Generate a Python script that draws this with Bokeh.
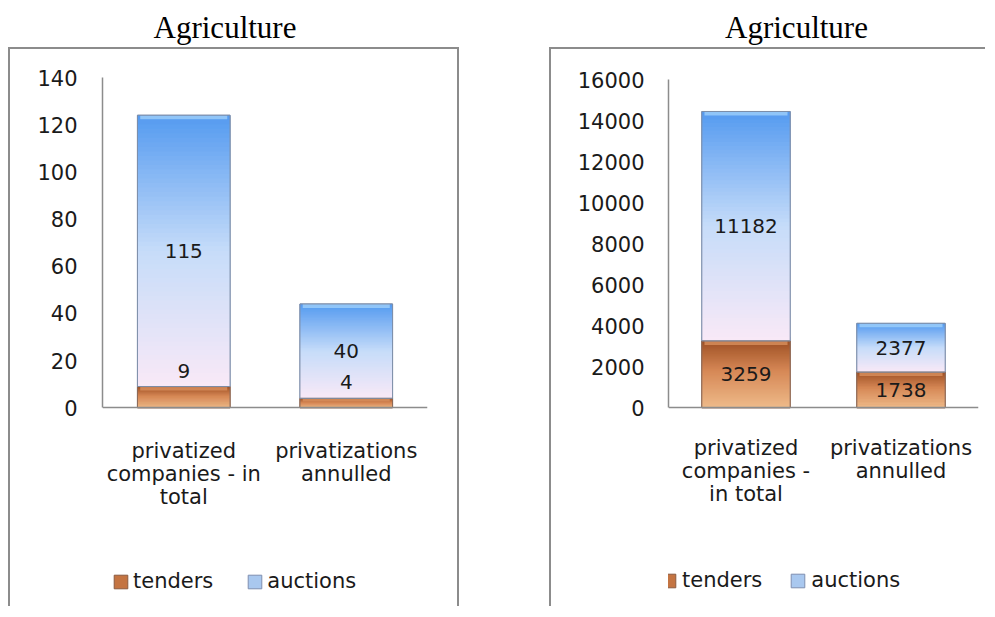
from bokeh.plotting import figure
from bokeh.models import (ColumnDataSource, Range1d, FactorRange, FixedTicker,
                          Legend, LegendItem, Div, Spacer)
from bokeh.layouts import row, column
from bokeh.embed import file_html
from bokeh.resources import INLINE
from bokeh.core.properties import value

# ---------------- data ----------------
chart_title = "Agriculture"
series_names = ["tenders", "auctions"]

left_categories = ["privatized\ncompanies - in\ntotal", "privatizations\nannulled"]
left_tenders = [9, 4]
left_auctions = [115, 40]
left_ticks = [0, 20, 40, 60, 80, 100, 120, 140]

right_categories = ["privatized\ncompanies -\nin total", "privatizations\nannulled"]
right_tenders = [3259, 1738]
right_auctions = [11182, 2377]
right_ticks = [0, 2000, 4000, 6000, 8000, 10000, 12000, 14000, 16000]

# ---------------- styles ----------------
FONT = "DejaVu Sans"
TEXT_COLOR = "#1a1a1a"
AXIS_COLOR = "#8c8c8c"
TENDER_STOPS = [(0.0, (238, 186, 138)), (0.55, (214, 136, 86)), (1.0, (158, 80, 36))]
AUCTION_STOPS = [(0.0, (249, 233, 247)), (0.5, (198, 220, 249)), (1.0, (84, 154, 240))]
TENDER_BASE = "#c47442"
AUCTION_BASE = "#a9c8ef"
TENDER_BEVEL = "#d9905e"
AUCTION_BEVEL = "#9fd0fa"
N_SLICES = 60
BAR_WIDTH = 0.57
BEVEL_PX = 4


def lerp_color(stops, f):
    for (f0, c0), (f1, c1) in zip(stops[:-1], stops[1:]):
        if f <= f1:
            t = (f - f0) / (f1 - f0) if f1 > f0 else 0
            return "#%02x%02x%02x" % tuple(int(round(a + (b - a) * t)) for a, b in zip(c0, c1))
    return "#%02x%02x%02x" % stops[-1][1]


def gradient_source(cats, lows, highs, stops):
    xs, bots, tops, cols = [], [], [], []
    for cat, lo, hi in zip(cats, lows, highs):
        step = (hi - lo) / N_SLICES
        for i in range(N_SLICES):
            b = lo + step * i
            t = min(hi, lo + step * (i + 2))
            xs.append(cat)
            bots.append(b)
            tops.append(t)
            cols.append(lerp_color(stops, (i + 0.5) / N_SLICES))
    return ColumnDataSource(dict(x=xs, bottom=bots, top=tops, color=cols))


def make_panel(cats, tenders, auctions, ticks, width, height, borders,
               frame_left, frame_right, frame_top, frame_bottom, value_px,
               y_standoff, x_standoff, legend_loc, legend_standoff, legend_spacing,
               lift_small_tender_labels, title_pad):
    # the frame reaches down to the legend; value 0 sits value_px below the frame top
    frame_h = height - 2 - frame_top - frame_bottom
    ymax = ticks[-1]
    y_start = -ymax * (frame_h - value_px) / value_px
    p = figure(x_range=FactorRange(factors=cats), y_range=Range1d(y_start, ymax),
               width=width, height=height, output_backend="svg", toolbar_location=None,
               min_border_left=frame_left, min_border_right=frame_right,
               min_border_top=frame_top, min_border_bottom=frame_bottom)
    p.outline_line_color = None
    p.xgrid.visible = False
    p.ygrid.visible = False
    p.styles = borders

    totals = [t + a for t, a in zip(tenders, auctions)]
    zeros = [0 for _ in tenders]

    # base segments (solid colours; these also give the legend swatches)
    base_t = p.vbar(x=cats, bottom=zeros, top=tenders, width=BAR_WIDTH,
                    fill_color=TENDER_BASE, line_color="#8a5a40")
    base_a = p.vbar(x=cats, bottom=tenders, top=totals, width=BAR_WIDTH,
                    fill_color=AUCTION_BASE, line_color="#7f8fb0")

    # gradient overlay
    src_t = gradient_source(cats, zeros, tenders, TENDER_STOPS)
    src_a = gradient_source(cats, tenders, totals, AUCTION_STOPS)
    p.vbar(x="x", bottom="bottom", top="top", width=BAR_WIDTH, source=src_t,
           fill_color="color", line_color=None)
    p.vbar(x="x", bottom="bottom", top="top", width=BAR_WIDTH, source=src_a,
           fill_color="color", line_color=None)
    # light bevel along the top edge of each segment
    bevel = BEVEL_PX * ymax / value_px
    p.vbar(x=cats, bottom=[t - min(bevel, t / 3) for t in tenders], top=tenders,
           width=BAR_WIDTH * 0.94, fill_color=TENDER_BEVEL, fill_alpha=0.8, line_color=None)
    p.vbar(x=cats, bottom=[s - bevel for s in totals], top=totals,
           width=BAR_WIDTH * 0.94, fill_color=AUCTION_BEVEL, fill_alpha=0.8, line_color=None)
    # outlines of segments
    p.vbar(x=cats, bottom=zeros, top=tenders, width=BAR_WIDTH, fill_alpha=0,
           line_color="#8a6a5a", line_width=1)
    p.vbar(x=cats, bottom=tenders, top=totals, width=BAR_WIDTH, fill_alpha=0,
           line_color="#7d8ea8", line_width=1)

    # value labels
    mid_a = [t + a / 2 for t, a in zip(tenders, auctions)]
    p.text(x=cats, y=mid_a, text=[str(a) for a in auctions],
           text_align="center", text_baseline="middle",
           text_font=value(FONT), text_font_size=value("20px"), text_color=TEXT_COLOR)
    if lift_small_tender_labels:
        p.text(x=cats, y=tenders, text=[str(t) for t in tenders],
               text_align="center", text_baseline="bottom", y_offset=-9,
               text_font=value(FONT), text_font_size=value("20px"), text_color=TEXT_COLOR)
    else:
        p.text(x=cats, y=[t / 2 for t in tenders], text=[str(t) for t in tenders],
               text_align="center", text_baseline="middle",
               text_font=value(FONT), text_font_size=value("20px"), text_color=TEXT_COLOR)

    # axes
    for ax in (p.xaxis, p.yaxis):
        ax.axis_line_color = AXIS_COLOR
        ax.axis_line_width = 1.5
        ax.major_tick_line_color = None
        ax.minor_tick_line_color = None
        ax.major_label_text_font = FONT
        ax.major_label_text_font_size = "21px"
        ax.major_label_text_color = TEXT_COLOR
    p.yaxis.ticker = FixedTicker(ticks=ticks)
    p.yaxis.bounds = (ticks[0], ticks[-1])
    p.yaxis.major_label_standoff = y_standoff
    p.xaxis.fixed_location = 0
    p.xaxis.major_label_standoff = x_standoff
    p.xaxis.major_label_text_line_height = 0.96

    legend = Legend(items=[LegendItem(label=series_names[0], renderers=[base_t]),
                           LegendItem(label=series_names[1], renderers=[base_a])],
                    orientation="horizontal", location=legend_loc,
                    glyph_width=17, glyph_height=17, label_standoff=legend_standoff,
                    spacing=legend_spacing,
                    padding=0, margin=0, border_line_color=None,
                    background_fill_alpha=0,
                    label_text_font=FONT, label_text_font_size="21px",
                    label_text_color=TEXT_COLOR)
    p.add_layout(legend)

    title = Div(text=('<div style="width:%dpx; box-sizing:border-box; text-align:center; '
                      'font-family:\'Liberation Serif\'; font-size:31px; line-height:37px; '
                      'position:relative; top:4px; color:#000000; %s">%s</div>')
                % (width, title_pad, chart_title),
                width=width, height=37)
    return column(title, p, spacing=0)


left = make_panel(left_categories, left_tenders, left_auctions, left_ticks,
                  width=451, height=559,
                  borders={"border-top": "2px solid #8c8c8c",
                           "border-left": "2px solid #8c8c8c",
                           "border-right": "2px solid #8c8c8c"},
                  frame_left=92, frame_right=34, frame_top=28, frame_bottom=9, value_px=329,
                  y_standoff=19, x_standoff=25, legend_loc=(10, 6),
                  legend_standoff=4, legend_spacing=33,
                  lift_small_tender_labels=True, title_pad="padding-right:27px;")

right = make_panel(right_categories, right_tenders, right_auctions, right_ticks,
                   width=436, height=559,
                   borders={"border-top": "2px solid #8c8c8c",
                            "border-left": "2px solid #8c8c8c"},
                   frame_left=117, frame_right=9, frame_top=30, frame_bottom=9, value_px=327,
                   y_standoff=18, x_standoff=22, legend_loc=(-8, 7),
                   legend_standoff=5, legend_spacing=27,
                   lift_small_tender_labels=False, title_pad="padding-left:49px;")

layout = row(Spacer(width=8), left, Spacer(width=80), right, spacing=0)

open("out.html", "w").write(file_html(layout, INLINE))
